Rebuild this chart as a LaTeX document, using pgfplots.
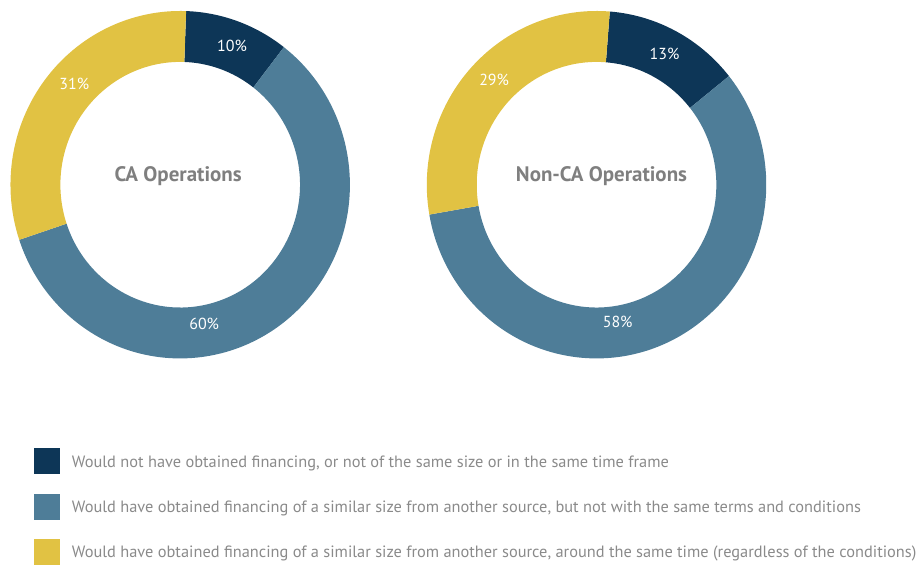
\documentclass[border=0pt]{standalone}
\usepackage{fontspec}
\setmainfont{PT Sans}
\usepackage{pgfplots}
\usepackage{pgfplotstable}
\pgfplotsset{compat=1.18}

\definecolor{navy}{HTML}{0D3657}
\definecolor{steel}{HTML}{4E7D98}
\definecolor{gold}{HTML}{E1C243}
\definecolor{titlegray}{HTML}{7F7F7F}
\definecolor{legendgray}{HTML}{8A8A8A}

% share in %, slice colour, label angle (clockwise from 12 o'clock), label radius factor
\pgfplotstableread{
share color labelangle labelr
10 navy  21  1
60 steel 170 0.955
31 gold  313 1
}\caops
\pgfplotstableread{
share color labelangle labelr
13 navy  28  1
58 steel 171 0.935
29 gold  315 1
}\noncaops

% ring radii (px = pt here)
\def\Rx{170}\def\Ry{174}
\def\rx{120}\def\ry{123}
\def\mx{145}\def\my{148.5}

\newcommand\labfont{\fontsize{16}{16}\selectfont}
\newcommand\titlefont{\fontsize{21}{21}\selectfont\bfseries}

% #1 table, #2 cx, #3 cy, #4 start angle (cw from top)
\newcommand\donut[4]{%
  \pgfplotstablegetrowsof{#1}%
  \pgfmathtruncatemacro\nrows{\pgfplotsretval-1}%
  \def\tot{0}%
  \pgfplotsforeachungrouped \i in {0,...,\nrows}{%
    \pgfplotstablegetelem{\i}{share}\of#1%
    \pgfmathsetmacro\tot{\tot+\pgfplotsretval}}%
  \pgfmathsetmacro\cum{#4}%
  \pgfplotsforeachungrouped \i in {0,...,\nrows}{%
    \pgfplotstablegetelem{\i}{share}\of#1\let\val\pgfplotsretval
    \pgfplotstablegetelem{\i}{color}\of#1\let\col\pgfplotsretval
    \pgfplotstablegetelem{\i}{labelangle}\of#1\let\lab\pgfplotsretval
    \pgfplotstablegetelem{\i}{labelr}\of#1\let\labr\pgfplotsretval
    \pgfmathsetmacro\aA{90-\cum}%
    \pgfmathsetmacro\cum{\cum+360*(\val/\tot)}%
    \pgfmathsetmacro\aB{90-\cum}%
    \pgfmathsetmacro\xo{#2+\Rx*cos(\aA)}%
    \pgfmathsetmacro\yo{#3+\Ry*sin(\aA)}%
    \pgfmathsetmacro\xin{#2+\rx*cos(\aB)}%
    \pgfmathsetmacro\yin{#3+\ry*sin(\aB)}%
    \pgfmathsetmacro\xl{#2+\labr*\mx*cos(90-\lab)}%
    \pgfmathsetmacro\yl{#3+\labr*\my*sin(90-\lab)}%
    \edef\cmd{%
      \noexpand\fill[\col] (axis cs:\xo,\yo)
        arc[start angle=\aA, end angle=\aB, x radius=\Rx pt, y radius=\Ry pt]
        -- (axis cs:\xin,\yin)
        arc[start angle=\aB, end angle=\aA, x radius=\rx pt, y radius=\ry pt]
        -- cycle;
      \noexpand\node[white, font=\noexpand\labfont, inner sep=0pt]
        at (axis cs:\xl,\yl) {\val\noexpand\%};}%
    \cmd
  }%
}

\begin{document}
\begin{tikzpicture}
\begin{axis}[
  x=1pt, y=1pt,
  xmin=0, xmax=918, ymin=0, ymax=566,
  scale only axis,
  hide axis,
  clip=false,
  legend style={at={(axis cs:32,117)}, anchor=north west, draw=none,
    fill=none, inner sep=0pt, row sep=20pt, column sep=13pt,
    font=\fontsize{16.4}{16.4}\selectfont, text=legendgray,
    nodes={inner sep=0pt}},
  legend cell align=left,
  legend image code/.code={\fill[#1] (0pt,-11.5pt) rectangle (25pt,13.5pt);},
]
\path (axis cs:0,0) rectangle (axis cs:918,566);

\donut{\caops}{179}{381}{2}
\donut{\noncaops}{596}{381}{4.5}

\node[titlegray, font=\titlefont, anchor=base] at (axis cs:177,384.3) {CA Operations};
\node[titlegray, font=\titlefont, anchor=base] at (axis cs:601,384.3) {Non-CA Operations};

\addlegendimage{navy}
\addlegendentry{Would not have obtained financing, or not of the same size or in the same time frame}
\addlegendimage{steel}
\addlegendentry{Would have obtained financing of a similar size from another source, but not with the same terms and conditions}
\addlegendimage{gold}
\addlegendentry{Would have obtained financing of a similar size from another source, around the same time (regardless of the conditions)}
\end{axis}
\end{tikzpicture}
\end{document}
